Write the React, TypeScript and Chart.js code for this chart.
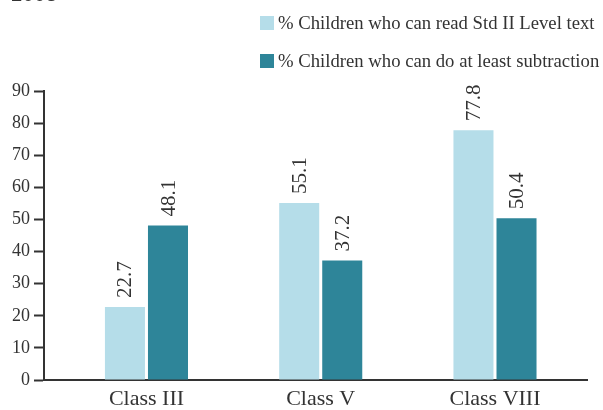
import React, { useEffect, useRef } from "react";
import { Chart, registerables } from "chart.js";

Chart.register(...registerables);

const categories = ["Class III", "Class V", "Class VIII"];
const readValues = [22.7, 55.1, 77.8];
const subtractValues = [48.1, 37.2, 50.4];
const seriesLabels = [
  "% Children who can read Std II Level text",
  "% Children who can do at least subtraction",
];
const yTicks = [0, 10, 20, 30, 40, 50, 60, 70, 80, 90];
const titleText = "2008";

const LIGHT = "#b5dde9";
const DARK = "#2e8599";
const INK = "#333333";
const FONT = "'Liberation Serif', 'Times New Roman', serif";

const overlay = {
  id: "overlay",
  afterDatasetsDraw(chart: any) {
    const ctx = chart.ctx;
    ctx.save();
    ctx.fillStyle = INK;
    ctx.font = `21px ${FONT}`;
    ctx.textAlign = "left";
    ctx.textBaseline = "middle";
    chart.data.datasets.forEach((ds: any, di: number) => {
      const meta = chart.getDatasetMeta(di);
      meta.data.forEach((bar: any, i: number) => {
        const v = ds.data[i].y;
        ctx.save();
        ctx.translate(bar.x + 1, bar.y - 9);
        ctx.rotate(-Math.PI / 2);
        ctx.fillText(v.toFixed(1), 0, 0);
        ctx.restore();
      });
    });
    ctx.font = `18.7px ${FONT}`;
    ctx.textBaseline = "middle";
    const rows = [23, 61];
    chart.data.datasets.forEach((ds: any, di: number) => {
      const cy = rows[di];
      ctx.fillStyle = ds.backgroundColor;
      ctx.fillRect(260, cy - 7, 14, 14);
      ctx.fillStyle = INK;
      ctx.fillText(ds.label, 278, cy + 1);
    });
    ctx.font = `23px ${FONT}`;
    ctx.textBaseline = "alphabetic";
    ctx.fillText(titleText, 11, 1);
    ctx.restore();
  },
};

export default function App() {
  const ref = useRef<HTMLCanvasElement | null>(null);
  useEffect(() => {
    if (!ref.current) return;
    const chart = new Chart(ref.current, {
      type: "bar",
      data: {
        datasets: [
          {
            label: seriesLabels[0],
            data: readValues.map((v, i) => ({ x: i, y: v })),
            backgroundColor: LIGHT,
            categoryPercentage: 0.494,
            barPercentage: 0.93,
          },
          {
            label: seriesLabels[1],
            data: subtractValues.map((v, i) => ({ x: i, y: v })),
            backgroundColor: DARK,
            categoryPercentage: 0.494,
            barPercentage: 0.93,
          },
        ] as any,
      },
      options: {
        animation: false,
        responsive: false,
        maintainAspectRatio: false,
        layout: { padding: { top: 91, right: 16, left: 0, bottom: 0 } },
        plugins: {
          legend: { display: false },
          tooltip: { enabled: false },
        },
        scales: {
          x: {
            type: "linear",
            offset: false,
            min: -0.588,
            max: 2.528,
            bounds: "ticks",
            afterFit: (s: any) => {
              s.height = 30;
            },
            afterBuildTicks: (s: any) => {
              s.ticks = categories.map((_, i) => ({ value: i }));
            },
            grid: { display: false, offset: false },
            border: { display: true, color: INK, width: 2 },
            ticks: {
              autoSkip: false,
              maxRotation: 0,
              color: INK,
              padding: -2,
              font: { family: FONT, size: 22 },
              callback: (v: any) =>
                Number.isInteger(v) && categories[v] ? categories[v] : "",
            },
          } as any,
          y: {
            min: 0,
            max: 90,
            afterFit: (s: any) => {
              s.width = 44;
            },
            afterBuildTicks: (s: any) => {
              s.ticks = yTicks.map((v) => ({ value: v }));
            },
            grid: {
              display: true,
              drawOnChartArea: false,
              drawTicks: true,
              tickLength: 10,
              tickWidth: 2,
              tickColor: INK,
            },
            border: { display: true, color: INK, width: 2 },
            ticks: {
              color: INK,
              padding: 4,
              font: { family: FONT, size: 18 },
            },
          },
        },
      },
      plugins: [overlay],
    });
    return () => chart.destroy();
  }, []);
  return (
    <div style={{ position: "absolute", left: 0, top: 0, width: 603, height: 410, background: "#fff" }}>
      <canvas ref={ref} width={603} height={410} style={{ width: 603, height: 410, display: "block" }} />
    </div>
  );
}
